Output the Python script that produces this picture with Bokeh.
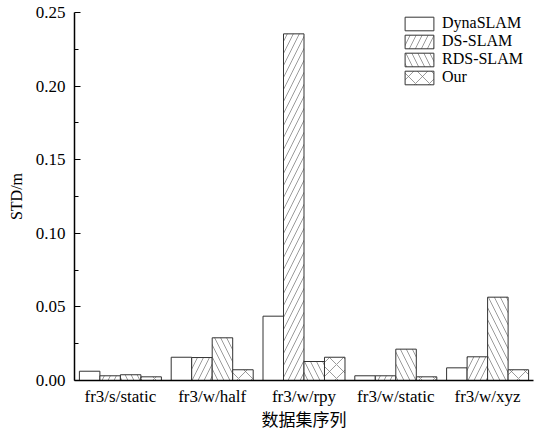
from bokeh.plotting import figure
from bokeh.models import FactorRange, Range1d, FixedTicker, NumeralTickFormatter, Legend, LegendItem, ColumnDataSource
from bokeh.transform import dodge
from bokeh.embed import file_html
from bokeh.resources import INLINE

categories = ["fr3/s/static", "fr3/w/half", "fr3/w/rpy", "fr3/w/static", "fr3/w/xyz"]
series_names = ["DynaSLAM", "DS-SLAM", "RDS-SLAM", "Our"]
dynaslam = [0.0063, 0.0158, 0.0437, 0.0032, 0.0086]
ds_slam = [0.0032, 0.0156, 0.2355, 0.0032, 0.0161]
rds_slam = [0.0039, 0.0290, 0.0129, 0.0213, 0.0566]
our = [0.0025, 0.0073, 0.0158, 0.0025, 0.0073]
y_ticks = [0.0, 0.05, 0.10, 0.15, 0.20, 0.25]

src = ColumnDataSource(dict(cat=categories, d=dynaslam, ds=ds_slam, rds=rds_slam, o=our))

SERIF = "Liberation Serif"
p = figure(width=542, height=433, output_backend="svg", toolbar_location=None,
           x_range=FactorRange(factors=categories, range_padding=0),
           y_range=Range1d(0, 0.25),
           min_border_left=74, min_border_right=9, min_border_top=12, min_border_bottom=0)
p.outline_line_color = None
p.xgrid.grid_line_color = None
p.ygrid.grid_line_color = None
p.background_fill_color = "white"
p.border_fill_color = "white"

w = 0.2233
cols = ["d", "ds", "rds", "o"]
hatches = [" ", "/", "\\", "x"]
scales = [12, 12, 12, 14]
renderers = []
for i, (c, h, s) in enumerate(zip(cols, hatches, scales)):
    off = (i - 1.5) * w
    r = p.vbar(x=dodge("cat", off, range=p.x_range), top=c, width=w, bottom=0, source=src,
               fill_color="white", line_color="#333333", line_width=1,
               hatch_pattern=h, hatch_color="#707070", hatch_weight=0.7, hatch_scale=s)
    renderers.append(r)

legend = Legend(items=[LegendItem(label=n, renderers=[r]) for n, r in zip(series_names, renderers)],
                location=(327, 294), orientation="vertical",
                glyph_width=36, glyph_height=17, label_height=17, spacing=0, padding=0, margin=0,
                label_standoff=5, border_line_color=None, background_fill_alpha=0,
                label_text_font=SERIF, label_text_font_size="16px", label_text_color="black")
p.add_layout(legend, "center")

# y axis
ya = p.yaxis[0]
ya.ticker = FixedTicker(ticks=y_ticks, minor_ticks=[0.025, 0.075, 0.125, 0.175, 0.225])
ya.formatter = NumeralTickFormatter(format="0.00")
ya.major_tick_in = 6
ya.major_tick_out = 0
ya.minor_tick_in = 4
ya.minor_tick_out = 0
ya.axis_line_width = 1.5
ya.major_tick_line_width = 1.2
ya.minor_tick_line_width = 1.2
ya.major_tick_line_color = "black"
ya.minor_tick_line_color = "black"
ya.axis_line_color = "black"
ya.major_label_text_font = SERIF
ya.major_label_text_font_size = "17px"
ya.major_label_text_color = "black"
ya.major_label_standoff = 9
ya.axis_label = "STD/m"
ya.axis_label_text_font = SERIF
ya.axis_label_text_font_size = "16px"
ya.axis_label_text_font_style = "normal"
ya.axis_label_text_color = "black"
ya.axis_label_standoff = 8

xa = p.xaxis[0]
xa.major_tick_line_color = None
xa.minor_tick_line_color = None
xa.axis_line_width = 1.5
xa.axis_line_color = "black"
xa.major_label_text_font = SERIF
xa.major_label_text_font_size = "17px"
xa.major_label_text_color = "black"
xa.major_label_standoff = 0
xa.axis_label = "数据集序列"
xa.axis_label_text_font = "Noto Sans CJK SC"
xa.axis_label_text_font_size = "17px"
xa.axis_label_text_font_style = "normal"
xa.axis_label_text_color = "black"
xa.axis_label_standoff = -3

open("out.html", "w").write(file_html(p, INLINE))
